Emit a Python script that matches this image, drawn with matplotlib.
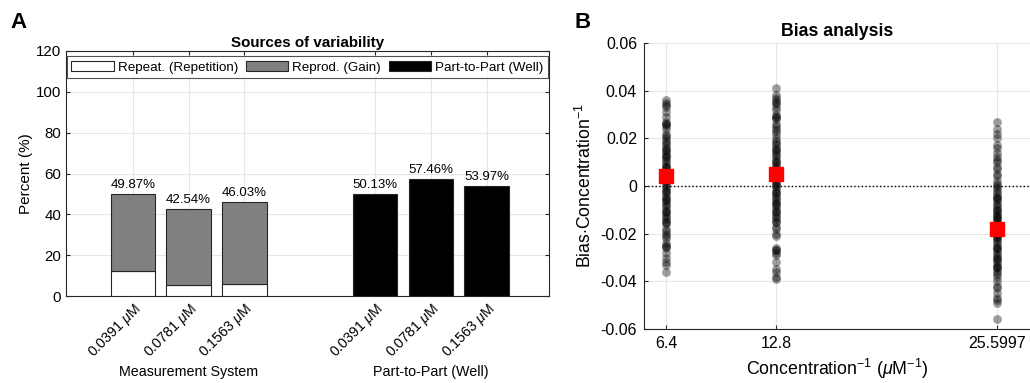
import numpy as np
import matplotlib
matplotlib.use('Agg')
import matplotlib.pyplot as plt

plt.rcParams['font.family'] = ['Liberation Sans', 'DejaVu Sans']
plt.rcParams['mathtext.fontset'] = 'custom'
plt.rcParams['mathtext.it'] = 'Liberation Sans:italic'
plt.rcParams['mathtext.rm'] = 'Liberation Sans'

# panel A data
conc_labels = [r'0.0391 $\mu$M', r'0.0781 $\mu$M', r'0.1563 $\mu$M']
groups = ['Measurement System', 'Part-to-Part (Well)']
repeat = [12.2, 5.2, 6.0]
total_ms = [49.87, 42.54, 46.03]
part = [50.13, 57.46, 53.97]
reprod = [t - r for t, r in zip(total_ms, repeat)]

# panel B data
inv_conc = [6.4, 12.8, 25.5997]
bias_64 = [0.036, 0.035, 0.034, 0.033, 0.031, 0.029, 0.027, 0.026, 0.025, 0.024,
           0.022, 0.021, 0.019, 0.018, 0.017, 0.016, 0.015, 0.014, 0.013, 0.012,
           0.011, 0.010, 0.009, 0.008, 0.007, 0.006, 0.005, 0.004, 0.003, 0.002,
           0.001, 0.000, -0.001, -0.002, -0.003, -0.004, -0.005, -0.006, -0.007,
           -0.008, -0.009, -0.010, -0.011, -0.012, -0.013, -0.014, -0.015, -0.016,
           -0.018, -0.019, -0.021, -0.022, -0.024, -0.025, -0.026, -0.028, -0.030,
           -0.032, -0.033, -0.036, 0.026, 0.020, 0.015, 0.012, 0.008, 0.005, 0.002,
           -0.002, -0.006, -0.011, -0.015, -0.020, -0.025]
bias_128 = [0.041, 0.038, 0.037, 0.036, 0.035, 0.033, 0.032, 0.030, 0.029, 0.028,
            0.026, 0.025, 0.023, 0.022, 0.020, 0.019, 0.017, 0.016, 0.015, 0.014,
            0.013, 0.012, 0.011, 0.010, 0.009, 0.008, 0.007, 0.006, 0.005, 0.004,
            0.003, 0.002, 0.001, 0.000, -0.001, -0.002, -0.003, -0.004, -0.005,
            -0.006, -0.007, -0.008, -0.009, -0.010, -0.011, -0.012, -0.013, -0.014,
            -0.015, -0.017, -0.018, -0.020, -0.021, -0.026, -0.027, -0.028, -0.029,
            -0.032, -0.035, -0.036, -0.038, -0.039, 0.035, 0.029, 0.024, 0.018,
            0.015, 0.010, 0.005, 0.001, -0.003, -0.007, -0.011, -0.015, -0.027]
bias_256 = [0.027, 0.024, 0.022, 0.020, 0.017, 0.016, 0.014, 0.012, 0.011, 0.010,
            0.008, 0.007, 0.005, 0.004, 0.002, 0.001, 0.000, -0.001, -0.002, -0.003,
            -0.004, -0.005, -0.006, -0.007, -0.008, -0.009, -0.010, -0.011, -0.012,
            -0.013, -0.014, -0.015, -0.016, -0.017, -0.018, -0.019, -0.020, -0.021,
            -0.022, -0.023, -0.024, -0.025, -0.026, -0.027, -0.028, -0.029, -0.030,
            -0.031, -0.032, -0.033, -0.034, -0.035, -0.036, -0.037, -0.038, -0.040,
            -0.042, -0.043, -0.045, -0.047, -0.048, -0.049, -0.056, -0.005, -0.010,
            -0.014, -0.018, -0.022, -0.026, -0.030, -0.034, -0.016, -0.012, -0.020]
bias_mean = [0.004, 0.005, -0.018]

fig = plt.figure(figsize=(10.3, 3.83), dpi=100)
grid_c = '#e6e6e6'
edge_c = '#262626'

# ---- panel A
ax = fig.add_axes([66 / 1030, 1 - 296 / 383, 483 / 1030, 245 / 383])
xa = np.array([1, 2, 3])
xb = xa + 4.35
ax.bar(xa, repeat, 0.8, color='white', edgecolor=edge_c, lw=0.8, label='Repeat. (Repetition)', zorder=3)
ax.bar(xa, reprod, 0.8, bottom=repeat, color='#808080', edgecolor=edge_c, lw=0.8, label='Reprod. (Gain)', zorder=3)
ax.bar(xb, part, 0.8, color='black', edgecolor=edge_c, lw=0.8, label='Part-to-Part (Well)', zorder=3)
for x, v in zip(list(xa) + list(xb), total_ms + part):
    ax.text(x, v + 1.5, f'{v:.2f}%', ha='center', va='bottom', fontsize=9.5)
ax.set_xlim(-0.2, 8.47)
ax.set_ylim(0, 120)
ax.set_yticks(range(0, 121, 20))
ax.set_xticks(list(xa) + list(xb))
ax.set_xticklabels(conc_labels * 2, rotation=45, ha='right', rotation_mode='anchor', fontsize=10.3)
ax.tick_params(axis='y', labelsize=10.8)
ax.tick_params(direction='in', top=True, right=True, length=3, color=edge_c)
ax.grid(True, color=grid_c, lw=0.8, zorder=0)
ax.set_axisbelow(True)
for s in ax.spines.values():
    s.set_color(edge_c)
    s.set_linewidth(0.8)
ax.set_ylabel('Percent (%)', fontsize=11, labelpad=2)
ax.set_title('Sources of variability', fontsize=10.9, fontweight='bold', pad=3)
ax.text(xa.mean(), -0.31, groups[0], transform=ax.get_xaxis_transform(), ha='center', va='center', fontsize=10.3)
ax.text(xb.mean(), -0.31, groups[1], transform=ax.get_xaxis_transform(), ha='center', va='center', fontsize=10.3)
leg = ax.legend(loc='upper center', ncol=3, bbox_to_anchor=(0.5, 0.978), fontsize=9.6, handlelength=3.2,
                handleheight=0.8, columnspacing=0.55, handletextpad=0.3, fancybox=False, borderpad=0.35,
                borderaxespad=0)
leg.get_frame().set_edgecolor(edge_c)
leg.get_frame().set_linewidth(0.8)
fig.text(10 / 1030, 1 - 23 / 383, 'A', fontsize=16, fontweight='bold', va='center')

# ---- panel B
bx = fig.add_axes([644 / 1030, 1 - 329 / 383, 386 / 1030, 286 / 383])
for x, vals in zip(inv_conc, [bias_64, bias_128, bias_256]):
    bx.scatter([x] * len(vals), vals, s=40, color='black', alpha=0.38, lw=0, zorder=3)
bx.axhline(0, color='black', ls=':', lw=1, zorder=2)
bx.plot(inv_conc, bias_mean, 's', color='red', ms=9.5, zorder=4, ls='none')
bx.set_xlim(5.12, 27.52)
bx.set_ylim(-0.06, 0.06)
bx.set_xticks(inv_conc)
bx.set_xticklabels(['6.4', '12.8', '25.5997'])
bx.set_yticks(np.arange(-0.06, 0.061, 0.02))
bx.set_yticklabels(['-0.06', '-0.04', '-0.02', '0', '0.02', '0.04', '0.06'])
bx.tick_params(direction='in', labelsize=11.5, length=3, color=edge_c, pad=5)
bx.grid(True, color=grid_c, lw=0.8, zorder=0)
bx.set_axisbelow(True)
bx.spines['top'].set_visible(False)
bx.spines['right'].set_visible(False)
for s in ['left', 'bottom']:
    bx.spines[s].set_color(edge_c)
    bx.spines[s].set_linewidth(0.8)
bx.set_xlabel(r'Concentration$^{-1}$ ($\mu$M$^{-1}$)', fontsize=12.8, labelpad=4)
bx.set_ylabel(r'Bias$\cdot$Concentration$^{-1}$', fontsize=12.7, labelpad=4)
bx.set_title('Bias analysis', fontsize=12.8, fontweight='bold', pad=5)
fig.text(575 / 1030, 1 - 23 / 383, 'B', fontsize=16, fontweight='bold', va='center')

fig.savefig('out.png', dpi=100)
